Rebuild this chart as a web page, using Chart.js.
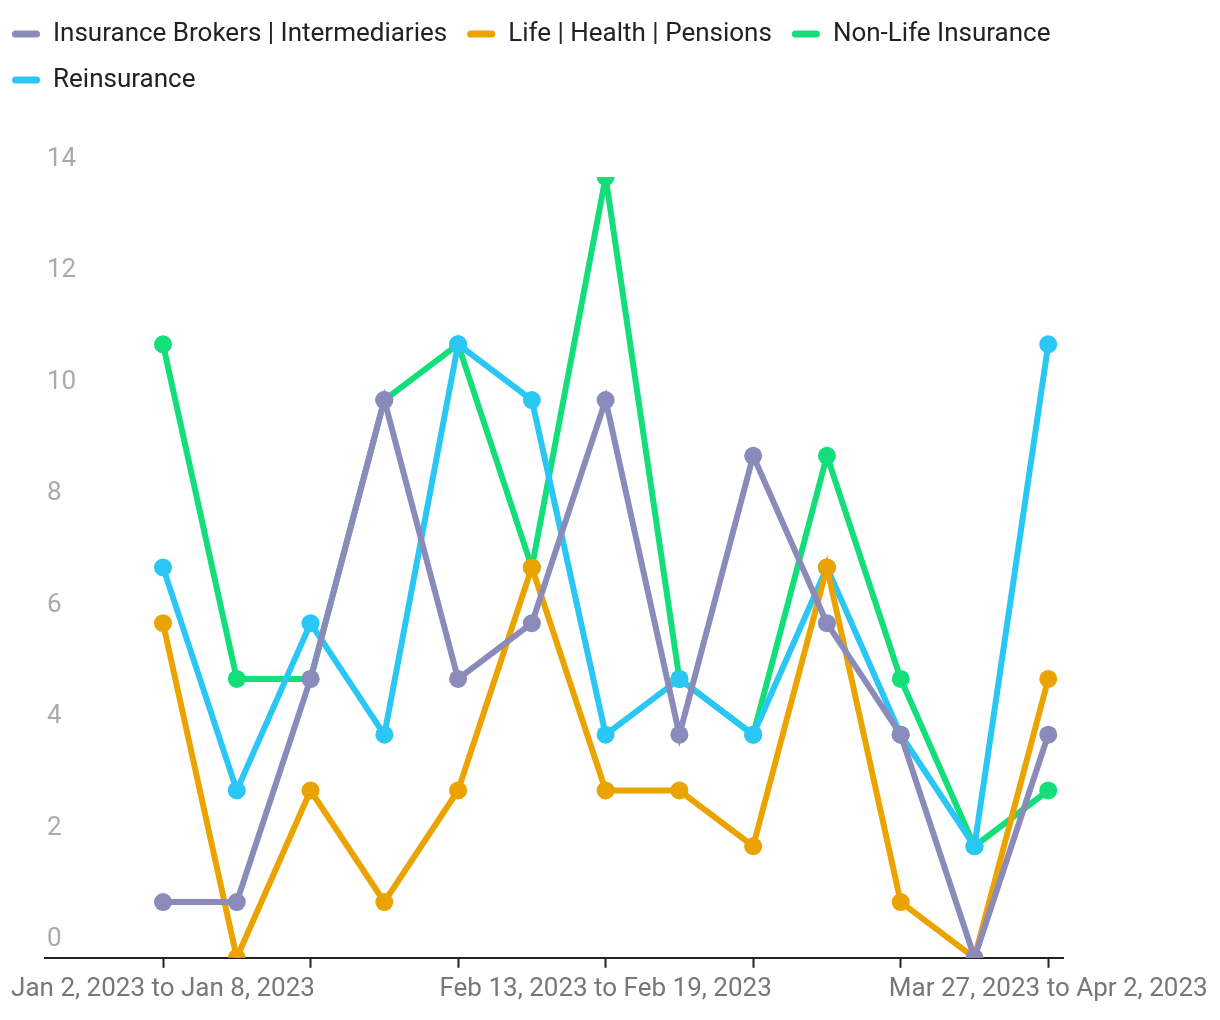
<!DOCTYPE html>
<html>
<head>
<meta charset="utf-8">
<script src="https://cdn.jsdelivr.net/npm/chart.js@4.4.0/dist/chart.umd.min.js"></script>
<style>
  html, body { margin: 0; padding: 0; background: #fff; }
  #wrap { width: 1220px; height: 1020px; }
</style>
</head>
<body>
<div id="wrap"><canvas id="chart"></canvas></div>
<script>
// weekly buckets
const weeks = [
    'Jan 2, 2023 to Jan 8, 2023', 'Jan 9, 2023 to Jan 15, 2023', 'Jan 16, 2023 to Jan 22, 2023',
    'Jan 23, 2023 to Jan 29, 2023', 'Jan 30, 2023 to Feb 5, 2023', 'Feb 6, 2023 to Feb 12, 2023',
    'Feb 13, 2023 to Feb 19, 2023', 'Feb 20, 2023 to Feb 26, 2023', 'Feb 27, 2023 to Mar 5, 2023',
    'Mar 6, 2023 to Mar 12, 2023', 'Mar 13, 2023 to Mar 19, 2023', 'Mar 20, 2023 to Mar 26, 2023',
    'Mar 27, 2023 to Apr 2, 2023'
];
const brokers     = [1, 1, 5, 10, 5, 6, 10, 4, 9, 6, 4, 0, 4];
const lifeHealth  = [6, 0, 3, 1, 3, 7, 3, 3, 2, 7, 1, 0, 5];
const nonLife     = [11, 5, 5, 10, 11, 7, 14, 5, 4, 9, 5, 2, 3];
const reinsurance = [7, 3, 6, 4, 11, 10, 4, 5, 4, 7, 4, 2, 11];
const yTicks = [0, 2, 4, 6, 8, 10, 12, 14];
const xTickIdx = [0, 2, 4, 6, 8, 10, 12];
const xLabelIdx = [0, 6, 12];

function series(label, values, color, order) {
    return {
        label: label,
        data: values.map((v, i) => ({ x: i, y: v })),
        borderColor: color,
        backgroundColor: color,
        pointBackgroundColor: color,
        pointBorderWidth: 0,
        pointRadius: 9,
        pointHoverRadius: 9,
        borderWidth: 6,
        tension: 0,
        order: order
    };
}

// legend uses the full canvas width, gets extra room below, and sits at the left edge
const legendTweak = {
    id: 'legendTweak',
    beforeInit(chart) {
        const fit = chart.legend.fit;
        chart.legend.fit = function() {
            this.maxWidth = chart.width;
            fit.bind(chart.legend)();
            this.height += 74;
        };
    },
    afterLayout(chart) {
        chart.legend.left = -8;
        chart.legend.right = chart.width;
        chart.legend.width = chart.width + 8;
    }
};

new Chart(document.getElementById('chart'), {
    type: 'line',
    data: {
        datasets: [
            series('Insurance Brokers | Intermediaries', brokers, '#8a8bbb', 0),
            series('Life | Health | Pensions', lifeHealth, '#eba300', 1),
            series('Non-Life Insurance', nonLife, '#13de7a', 3),
            series('Reinsurance', reinsurance, '#2ac6f4', 2)
        ]
    },
    options: {
        responsive: true,
        maintainAspectRatio: false,
        animation: false,
        layout: { padding: { left: 40, right: 157, top: 1, bottom: 9 } },
        plugins: {
            tooltip: { enabled: false },
            legend: {
                position: 'top',
                align: 'start',
                labels: {
                    font: { family: 'Roboto', size: 26 },
                    color: '#222',
                    boxWidth: 28,
                    boxHeight: 7,
                    padding: 20,
                    useBorderRadius: true,
                    borderRadius: 3.5,
                    sort: (a, b) => a.datasetIndex - b.datasetIndex,
                    generateLabels: function(chart) {
                        const items = Chart.defaults.plugins.legend.labels.generateLabels(chart);
                        items.forEach(it => { it.lineWidth = 0; });
                        return items;
                    }
                }
            }
        },
        scales: {
            x: {
                type: 'linear',
                min: -1.6,
                max: 12.2,
                afterBuildTicks: axis => { axis.ticks = xTickIdx.map(v => ({ value: v })); },
                border: { display: true, color: '#222', width: 2 },
                grid: { display: true, drawOnChartArea: false, drawTicks: true, tickLength: 10, tickWidth: 2, tickColor: '#222' },
                ticks: {
                    autoSkip: false,
                    maxRotation: 0,
                    padding: 6,
                    color: '#777',
                    font: { family: 'Roboto', size: 26 },
                    callback: v => xLabelIdx.includes(v) ? weeks[v] : ''
                }
            },
            y: {
                min: 0,
                max: 14,
                afterBuildTicks: axis => { axis.ticks = yTicks.map(v => ({ value: v })); },
                border: { display: false },
                grid: { display: false, drawTicks: false },
                ticks: {
                    mirror: true,
                    padding: 2,
                    labelOffset: -18,
                    color: '#aaa',
                    font: { family: 'Roboto', size: 26 }
                }
            }
        }
    },
    plugins: [legendTweak]
});
</script>
</body>
</html>
